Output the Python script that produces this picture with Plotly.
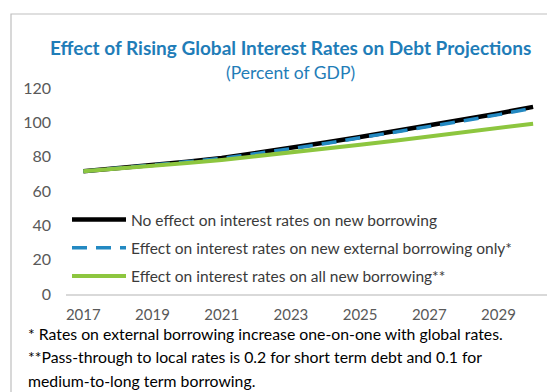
import plotly.graph_objects as go

# Debt projections, percent of GDP
years = list(range(2017, 2031))
no_effect = [71.5, 73.2, 75.0, 77.0, 79.2, 82.0, 85.0, 88.2, 91.5, 94.8, 98.2, 101.6, 105.2, 109.0]
external_only = [71.5, 73.2, 75.0, 77.0, 79.0, 81.7, 84.6, 87.7, 90.9, 94.1, 97.5, 100.9, 104.5, 108.3]
all_new = [71.5, 73.0, 74.6, 76.3, 78.1, 80.2, 82.4, 84.7, 87.0, 89.3, 91.8, 94.2, 96.7, 99.2]

series_names = [
    "No effect on interest rates on new borrowing",
    "Effect on interest rates on new external borrowing only*",
    "Effect on interest rates on all new borrowing**",
]
x_ticks = [2017, 2019, 2021, 2023, 2025, 2027, 2029]
y_ticks = [0, 20, 40, 60, 80, 100, 120]

title_text = "Effect of Rising Global Interest Rates on Debt Projections"
subtitle_text = "(Percent of GDP)"
notes = [
    "* Rates on external borrowing increase one-on-one with global rates.",
    "**Pass-through to local rates is 0.2 for short term debt and 0.1 for",
    "medium-to-long term borrowing.",
]

W, H = 547, 392
L, R, T, B = 66, 0, 88, 98
pw, ph = W - L - R, H - T - B


def px_x(p):
    return (p - L) / pw


def px_y(p):
    return (H - B - p) / ph


FONT = "Lato, 'Open Sans', sans-serif"
BLUE_TITLE = "#1f7db8"

fig = go.Figure()
fig.add_trace(go.Scatter(
    x=years, y=no_effect, name=series_names[0], mode="lines",
    line=dict(color="#000000", width=4.5), legendgroup="a",
))
fig.add_trace(go.Scatter(
    x=years, y=external_only, name=series_names[1], mode="lines",
    line=dict(color="#2389c2", width=3.5, dash="15px,9px"), legendgroup="b",
))
fig.add_trace(go.Scatter(
    x=years, y=all_new, name=series_names[2], mode="lines",
    line=dict(color="#8dc63f", width=4), legendgroup="c",
))

annotations = [
    dict(text="<b>" + title_text + "</b>", x=px_x(290), y=px_y(47),
         xref="paper", yref="paper", showarrow=False, xanchor="center", yanchor="middle",
         font=dict(family=FONT, size=19, color=BLUE_TITLE)),
    dict(text=subtitle_text, x=px_x(290), y=px_y(72),
         xref="paper", yref="paper", showarrow=False, xanchor="center", yanchor="middle",
         font=dict(family=FONT, size=17.5, color=BLUE_TITLE)),
]
for i, line in enumerate(notes):
    annotations.append(dict(
        text=line, x=px_x(26), y=px_y(333 + i * 23.5), xref="paper", yref="paper",
        showarrow=False, xanchor="left", yanchor="middle",
        font=dict(family=FONT, size=15.8, color="#000000"),
    ))

fig.update_layout(
    width=W, height=H,
    margin=dict(l=L, r=R, t=T, b=B, pad=0),
    paper_bgcolor="white", plot_bgcolor="white",
    showlegend=True,
    legend=dict(
        x=px_x(67), y=px_y(203), xanchor="left", yanchor="top",
        bgcolor="rgba(0,0,0,0)", font=dict(family=FONT, size=15.5, color="#3a3a3a"),
        itemwidth=54, traceorder="grouped", tracegroupgap=5,
    ),
    xaxis=dict(
        range=[2016.5, 2016.5 + pw / 34.6], tickvals=x_ticks, showgrid=False,
        zeroline=False, showline=True, linecolor="#d9d9d9", linewidth=1.5,
        ticks="", tickfont=dict(family=FONT, size=15, color="#595959"),
        ticklabelstandoff=6,
    ),
    yaxis=dict(
        range=[0, 120], tickvals=y_ticks, showgrid=False, zeroline=False,
        showline=False, ticks="", tickfont=dict(family=FONT, size=16, color="#595959"),
        ticklabelstandoff=14,
    ),
    annotations=annotations,
    shapes=[dict(
        type="rect", xref="paper", yref="paper",
        x0=px_x(11), x1=px_x(W + 20), y0=px_y(H + 20), y1=px_y(14),
        line=dict(color="#bfbfbf", width=1.2), fillcolor="rgba(0,0,0,0)", layer="below",
    )],
)

fig.write_html("out.html")
